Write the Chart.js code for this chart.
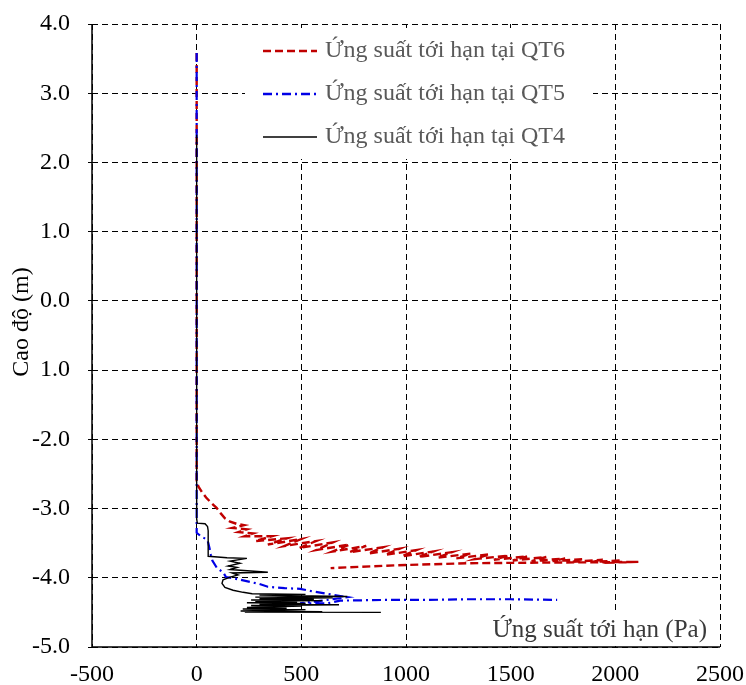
<!DOCTYPE html>
<html>
<head>
<meta charset="utf-8">
<script src="https://cdn.jsdelivr.net/npm/chart.js@4.4.1/dist/chart.umd.min.js"></script>
<style>
  html, body { margin: 0; padding: 0; background: #fff; }
  #wrap { width: 746px; height: 685px; }
</style>
</head>
<body>
<div id="wrap"><canvas id="c" width="746" height="685"></canvas></div>
<script>
// Critical shear stress (Pa) against bed elevation (m) at three cross-sections

const seriesNames = ['Ứng suất tới hạn tại QT6', 'Ứng suất tới hạn tại QT5', 'Ứng suất tới hạn tại QT4'];

// QT6
const qt6Stress = [0, 0, 8, 25, 45, 70, 95, 115, 135, 160, 190, 225, 170, 240, 200, 270, 230,
  360, 280, 430, 340, 500, 420, 570, 490, 650, 570, 730, 650, 810, 730, 890, 820, 970, 900,
  1050, 980, 1130, 1060, 1220, 1150, 1310, 1240, 1400, 1330, 1490, 1420, 1580, 1510, 1670, 1600,
  1760, 1700, 1850, 1790, 1940, 1890, 2030, 1990, 2110,
  1700, 1290, 950, 640];
const qt6Elevation = [3.58, -2.60, -2.68, -2.76, -2.84, -2.92, -2.99, -3.07, -3.14, -3.19, -3.22, -3.24, -3.28, -3.30, -3.34, -3.36, -3.40,
  -3.40, -3.47, -3.43, -3.52, -3.44, -3.54, -3.47, -3.57, -3.49, -3.60, -3.52, -3.62, -3.54, -3.63, -3.56, -3.65, -3.58, -3.67,
  -3.60, -3.69, -3.62, -3.70, -3.63, -3.71, -3.65, -3.72, -3.66, -3.73, -3.68, -3.74, -3.69, -3.75, -3.70, -3.76,
  -3.72, -3.76, -3.73, -3.77, -3.74, -3.77, -3.75, -3.78, -3.77,
  -3.78, -3.79, -3.82, -3.86];

// QT5
const qt5Stress = [0, 0, 0, 20, 50, 55, 62, 68, 75, 97, 126, 140, 180, 255, 300, 340, 420, 494, 560, 640, 720,
  600, 494, 624, 686, 900, 1100, 1300, 1500, 1722];
const qt5Elevation = [3.58, -3.20, -3.35, -3.40, -3.45, -3.49, -3.58, -3.67, -3.75, -3.86, -3.92, -3.99, -4.01, -4.06, -4.09, -4.13, -4.15, -4.16, -4.20, -4.24, -4.28,
  -4.33, -4.37, -4.37, -4.33, -4.32, -4.32, -4.31, -4.31, -4.32];

// QT4
const qt4Stress = [0, 0, 3, 40, 52, 55, 55, 100, 145, 240, 160, 207, 150, 193, 160, 340, 169, 198, 160, 126, 121, 135,
  174, 222, 265, 520, 300, 720, 280, 650, 300, 560, 260, 600, 280, 480, 240, 520, 300, 680, 260, 500,
  240, 430, 220, 520, 210, 600, 230, 880];
const qt4Elevation = [2.40, -3.15, -3.21, -3.22, -3.26, -3.32, -3.69, -3.70, -3.71, -3.72, -3.76, -3.79, -3.83, -3.85, -3.88, -3.92, -3.93, -3.96, -3.99, -4.03, -4.08, -4.14,
  -4.18, -4.21, -4.23, -4.24, -4.25, -4.27, -4.28, -4.29, -4.30, -4.31, -4.32, -4.33, -4.34, -4.35, -4.36, -4.37, -4.38, -4.39, -4.40, -4.41,
  -4.43, -4.44, -4.45, -4.46, -4.48, -4.49, -4.495, -4.50];

// Axis ticks
const yTickValues = [4, 3, 2, 1, 0, -1, -2, -3, -4, -5];
const yTickLabels = ['4.0', '3.0', '2.0', '1.0', '0.0', '1.0', '-2.0', '-3.0', '-4.0', '-5.0'];
const xTickValues = [-500, 0, 500, 1000, 1500, 2000, 2500];

const xTitle = 'Ứng suất tới hạn (Pa)';
const yTitle = 'Cao độ (m)';

const seriesColors = ['#C00000', '#0000E6', '#000000'];
const seriesDash = [[8, 4], [9, 4, 2, 4], []];
const seriesWidth = [2.4, 2.2, 1.4];

const FONT = '"Liberation Serif", "Times New Roman", serif';

function toPoints(xs, ys) {
  return xs.map((x, i) => ({ x: x, y: ys[i] }));
}

const datasets = [
  { label: seriesNames[0], data: toPoints(qt6Stress, qt6Elevation), order: 2 },
  { label: seriesNames[1], data: toPoints(qt5Stress, qt5Elevation), order: 1 },
  { label: seriesNames[2], data: toPoints(qt4Stress, qt4Elevation), order: 0 }
].map((d, i) => Object.assign(d, {
  showLine: true,
  fill: false,
  tension: 0,
  borderColor: seriesColors[i],
  backgroundColor: seriesColors[i],
  borderWidth: seriesWidth[i],
  borderDash: seriesDash[i],
  pointRadius: 0,
  pointHoverRadius: 0
}));

// Solid left and bottom axis lines over the dashed edge grid lines
const axisLines = {
  id: 'axisLines',
  beforeDatasetsDraw(chart) {
    const { ctx, chartArea: a } = chart;
    ctx.save();
    ctx.setLineDash([]);
    ctx.strokeStyle = '#000';
    ctx.lineWidth = 1.5;
    ctx.beginPath();
    ctx.moveTo(a.left, a.top);
    ctx.lineTo(a.left, a.bottom);
    ctx.lineTo(a.right, a.bottom);
    ctx.stroke();
    ctx.restore();
  }
};

// Legend inside the plot (white box over the grid) and the two axis titles
const overlay = {
  id: 'overlay',
  afterDraw(chart) {
    const ctx = chart.ctx;
    ctx.save();
    ctx.fillStyle = '#ffffff';
    ctx.fillRect(245, 28, 348, 131);
    const rows = [51, 94, 137];
    ctx.font = '24px ' + FONT;
    ctx.textBaseline = 'middle';
    ctx.textAlign = 'left';
    rows.forEach((y, i) => {
      ctx.beginPath();
      ctx.setLineDash(seriesDash[i]);
      ctx.lineWidth = seriesWidth[i] + 0.3;
      ctx.strokeStyle = seriesColors[i];
      ctx.moveTo(263, y);
      ctx.lineTo(317, y);
      ctx.stroke();
      ctx.setLineDash([]);
      ctx.fillStyle = '#595959';
      ctx.fillText(seriesNames[i], 325, y);
    });
    // x title, inside the plot at bottom right
    ctx.fillStyle = '#ffffff';
    ctx.fillRect(484, 614, 230, 32);
    ctx.fillStyle = '#3a3a3a';
    ctx.textAlign = 'right';
    ctx.font = '25px ' + FONT;
    ctx.fillText(xTitle, 707, 630);
    // y title, rotated
    ctx.font = '24px ' + FONT;
    ctx.translate(22, 322);
    ctx.rotate(-Math.PI / 2);
    ctx.textAlign = 'center';
    ctx.fillStyle = '#000000';
    ctx.fillText(yTitle, 0, 0);
    ctx.restore();
  }
};

new Chart(document.getElementById('c'), {
  type: 'scatter',
  data: { datasets: datasets },
  options: {
    responsive: false,
    animation: false,
    devicePixelRatio: 1,
    layout: { padding: { top: 24, right: 26, bottom: 0, left: 0 } },
    plugins: {
      legend: { display: false },
      tooltip: { enabled: false }
    },
    scales: {
      x: {
        type: 'linear',
        min: xTickValues[0],
        max: xTickValues[xTickValues.length - 1],
        afterBuildTicks(scale) { scale.ticks = xTickValues.map(v => ({ value: v })); },
        ticks: {
          font: { family: FONT, size: 24 },
          color: '#000',
          padding: 13,
          maxRotation: 0,
          callback: v => String(v)
        },
        grid: { color: '#000', lineWidth: 1, drawTicks: false },
        border: { display: false, color: '#000', width: 1.5, dash: [6, 4] },
        afterFit(scale) {
          scale.height = 38;
          scale.paddingLeft = 0;
          scale.paddingRight = 0;
        }
      },
      y: {
        type: 'linear',
        min: -5,
        max: 4,
        afterBuildTicks(scale) { scale.ticks = yTickValues.map(v => ({ value: v })); },
        ticks: {
          font: { family: FONT, size: 24 },
          color: '#000',
          padding: 18,
          callback: v => yTickLabels[yTickValues.indexOf(v)]
        },
        grid: { color: '#000', lineWidth: 1, drawTicks: true, tickLength: 4 },
        border: { display: false, color: '#000', width: 1.5, dash: [6, 4] },
        afterFit(scale) {
          scale.width = 92;
          scale.paddingTop = 0;
          scale.paddingBottom = 0;
        }
      }
    }
  },
  plugins: [axisLines, overlay]
});
</script>
</body>
</html>
